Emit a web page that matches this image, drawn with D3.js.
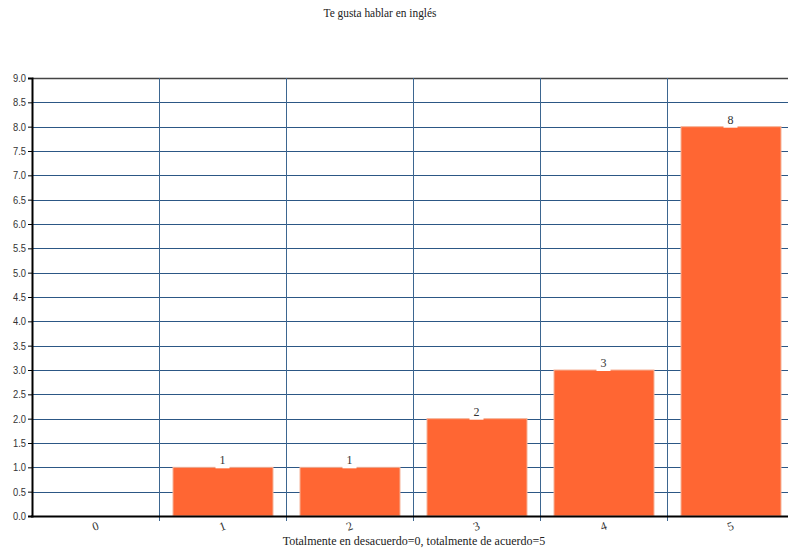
<!DOCTYPE html>
<html>
<head>
<meta charset="utf-8">
<script src="https://cdn.jsdelivr.net/npm/d3@7"></script>
<style>
  body { margin: 0; background: #fff; }
  svg { display: block; }
</style>
</head>
<body>
<div id="chart"></div>
<script>
// Chart data
const categories = ["0", "1", "2", "3", "4", "5"];
const values = [0, 1, 1, 2, 3, 8];
const yTicks = d3.range(0, 9.01, 0.5);
const title = "Te gusta hablar en inglés";
const xTitle = "Totalmente en desacuerdo=0, totalmente de acuerdo=5";

const width = 788, height = 552;
const marginLeft = 32, marginTop = 78, plotRight = 794, plotBottom = 516;

const svg = d3.select("#chart").append("svg")
    .attr("width", width)
    .attr("height", height);

const x = d3.scaleBand()
    .domain(categories)
    .range([marginLeft, plotRight])
    .paddingInner(0)
    .paddingOuter(0);

const y = d3.scaleLinear()
    .domain([0, 9])
    .range([plotBottom, marginTop]);

// horizontal grid lines
svg.append("g")
    .selectAll("line")
    .data(yTicks.filter(d => d > 0))
    .join("line")
    .attr("x1", marginLeft)
    .attr("x2", plotRight)
    .attr("y1", d => Math.round(y(d)) + 0.5)
    .attr("y2", d => Math.round(y(d)) + 0.5)
    .attr("stroke", d => d === 9 ? "#444" : "#2c5785")
    .attr("stroke-width", d => d === 9 ? 1.5 : 1);

// vertical grid lines at band boundaries
const bounds = categories.slice(1).map(c => x(c));
svg.append("g")
    .selectAll("line")
    .data(bounds)
    .join("line")
    .attr("x1", d => Math.round(d) + 0.5)
    .attr("x2", d => Math.round(d) + 0.5)
    .attr("y1", marginTop)
    .attr("y2", plotBottom + 5)
    .attr("stroke", "#3d6690")
    .attr("stroke-width", 1);

// bars
const barInset = 14;
svg.append("g")
    .selectAll("rect")
    .data(values.map((v, i) => ({ c: categories[i], v })).filter(d => d.v > 0))
    .join("rect")
    .attr("x", d => x(d.c) + barInset)
    .attr("width", x.bandwidth() - 2 * barInset + 1)
    .attr("y", d => y(d.v))
    .attr("height", d => plotBottom - y(d.v))
    .attr("fill", "#ff6633")
    .attr("stroke", "#f5b49a")
    .attr("stroke-width", 1);

// value labels with white box
const labels = svg.append("g")
    .selectAll("g")
    .data(values.map((v, i) => ({ c: categories[i], v })).filter(d => d.v > 0))
    .join("g")
    .attr("transform", d => `translate(${x(d.c) + x.bandwidth() / 2},${y(d.v)})`);

labels.append("rect")
    .attr("x", -7)
    .attr("y", -12)
    .attr("width", 14)
    .attr("height", 13)
    .attr("fill", "#fff");

labels.append("text")
    .attr("y", -3)
    .attr("text-anchor", "middle")
    .attr("font-family", "'Liberation Serif', serif")
    .attr("font-size", 12)
    .attr("fill", "#333")
    .text(d => d.v);

// y axis
const yAxis = svg.append("g")
    .attr("transform", `translate(${marginLeft},0)`)
    .call(d3.axisLeft(y).tickValues(yTicks).tickFormat(d3.format(".1f")).tickSize(4).tickPadding(2));
yAxis.select(".domain").attr("stroke", "#000").attr("stroke-width", 2);
yAxis.selectAll(".tick line").attr("stroke", "#000");
yAxis.selectAll(".tick text")
    .attr("font-family", "'Liberation Sans', sans-serif")
    .attr("font-size", 11)
    .attr("fill", "#333")
    .attr("textLength", 13)
    .attr("lengthAdjust", "spacingAndGlyphs");

// x axis
svg.append("line")
    .attr("x1", marginLeft - 1)
    .attr("x2", plotRight)
    .attr("y1", plotBottom + 0.5)
    .attr("y2", plotBottom + 0.5)
    .attr("stroke", "#000")
    .attr("stroke-width", 2);

svg.append("g")
    .selectAll("text")
    .data(categories)
    .join("text")
    .attr("transform", d => `translate(${x(d) + x.bandwidth() / 2},${plotBottom + 10}) rotate(-20)`)
    .attr("text-anchor", "middle")
    .attr("dy", "0.35em")
    .attr("font-family", "'Liberation Serif', serif")
    .attr("font-size", 12)
    .attr("fill", "#333")
    .text(d => d);

// titles
svg.append("text")
    .attr("x", 380)
    .attr("y", 17)
    .attr("text-anchor", "middle")
    .attr("font-family", "'Liberation Serif', serif")
    .attr("font-size", 12)
    .attr("fill", "#222")
    .attr("textLength", 113)
    .attr("lengthAdjust", "spacingAndGlyphs")
    .text(title);

svg.append("text")
    .attr("x", 414)
    .attr("y", 545)
    .attr("text-anchor", "middle")
    .attr("font-family", "'Liberation Serif', serif")
    .attr("font-size", 12)
    .attr("fill", "#222")
    .text(xTitle);
</script>
</body>
</html>
